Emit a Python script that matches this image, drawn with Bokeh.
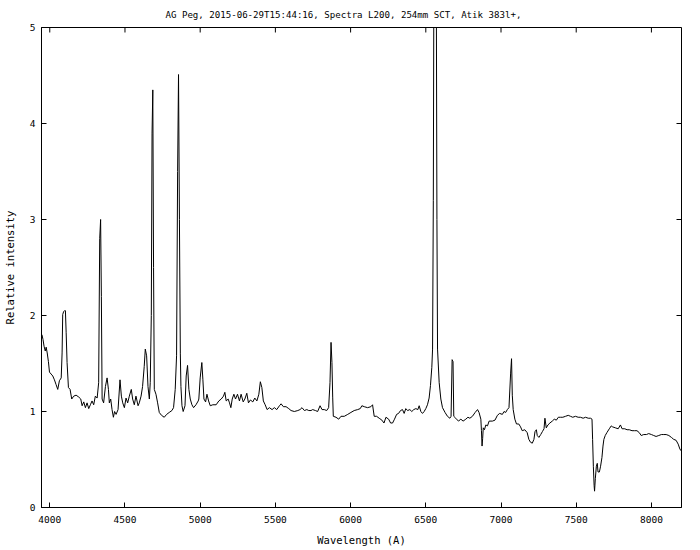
from bokeh.plotting import figure
from bokeh.models import Range1d, LinearAxis, FixedTicker, Title
from bokeh.embed import file_html
from bokeh.resources import INLINE

TITLE = "AG Peg, 2015-06-29T15:44:16, Spectra L200, 254mm SCT, Atik 383l+,"
X_LABEL = "Wavelength (A)"
Y_LABEL = "Relative intensity"
X_RANGE = (3945, 8200)
Y_RANGE = (0, 5)
X_TICKS = [4000, 4500, 5000, 5500, 6000, 6500, 7000, 7500, 8000]
Y_TICKS = [0, 1, 2, 3, 4, 5]

WAVELENGTH = [
    3948, 3955, 3962, 3970, 3976, 3983, 3991, 3998, 4009, 4020, 4031, 4042, 4053, 4064, 4076,
    4082, 4086, 4092, 4098, 4104, 4109, 4115, 4124, 4135, 4146, 4159, 4175, 4193, 4206, 4215,
    4226, 4237, 4248, 4259, 4270, 4281, 4292, 4303, 4315, 4325, 4332, 4338, 4343, 4348, 4358,
    4370, 4381, 4390, 4396, 4405, 4414, 4423, 4431, 4441, 4454, 4467, 4476, 4485, 4496, 4507,
    4518, 4529, 4542, 4551, 4562, 4573, 4587, 4595, 4607, 4617, 4628, 4635, 4644, 4653, 4662,
    4668, 4675, 4680, 4685, 4690, 4695, 4706, 4717, 4728, 4743, 4761, 4777, 4794, 4812, 4823,
    4834, 4843, 4850, 4856, 4862, 4868, 4872, 4879, 4887, 4899, 4907, 4916, 4925, 4934, 4945,
    4956, 4972, 4987, 4991, 5000, 5011, 5018, 5025, 5036, 5045, 5056, 5067, 5084, 5106, 5124,
    5140, 5155, 5164, 5173, 5186, 5195, 5204, 5213, 5224, 5235, 5248, 5261, 5272, 5286, 5297,
    5310, 5321, 5334, 5350, 5363, 5377, 5390, 5400, 5410, 5420, 5432, 5445, 5460, 5478, 5493,
    5509, 5527, 5538, 5553, 5571, 5589, 5604, 5626, 5649, 5664, 5677, 5693, 5709, 5722, 5737,
    5748, 5766, 5781, 5797, 5810, 5825, 5841, 5854, 5863, 5870, 5876, 5881, 5885, 5903, 5921,
    5936, 5958, 5981, 6002, 6024, 6047, 6064, 6075, 6091, 6113, 6135, 6146, 6157, 6173, 6190,
    6208, 6222, 6235, 6253, 6266, 6279, 6292, 6306, 6319, 6332, 6345, 6356, 6367, 6379, 6394,
    6407, 6420, 6434, 6447, 6456, 6467, 6478, 6489, 6500, 6511, 6522, 6531, 6540, 6545, 6550,
    6556, 6562, 6568, 6574, 6578, 6589, 6600, 6611, 6628, 6644, 6660, 6668, 6675, 6681, 6686,
    6699, 6717, 6733, 6748, 6766, 6780, 6793, 6810, 6828, 6844, 6854, 6866, 6870, 6874, 6878,
    6882, 6890, 6899, 6910, 6921, 6943, 6960, 6976, 6991, 7009, 7020, 7031, 7042, 7053, 7064,
    7070, 7075, 7081, 7092, 7103, 7118, 7130, 7141, 7158, 7174, 7185, 7196, 7208, 7219, 7226,
    7235, 7241, 7252, 7264, 7275, 7286, 7292, 7301, 7312, 7325, 7341, 7354, 7368, 7381, 7396,
    7411, 7429, 7447, 7462, 7477, 7495, 7513, 7528, 7546, 7562, 7580, 7595, 7605, 7609, 7614,
    7619, 7622, 7627, 7634, 7640, 7645, 7654, 7662, 7671, 7678, 7684, 7693, 7704, 7720, 7733,
    7742, 7760, 7779, 7794, 7805, 7823, 7838, 7853, 7871, 7888, 7904, 7919, 7932, 7949, 7967,
    7982, 8000, 8015, 8031, 8049, 8066, 8082, 8098, 8116, 8133, 8148, 8164, 8178, 8189, 8198,
]

INTENSITY = [
    1.80, 1.75, 1.68, 1.63, 1.67, 1.61, 1.52, 1.41, 1.39, 1.37, 1.33, 1.28, 1.23, 1.32, 1.35,
    1.61, 2.01, 2.04, 2.05, 2.05, 1.82, 1.51, 1.25, 1.23, 1.13, 1.16, 1.17, 1.15, 1.13, 1.06,
    1.10, 1.04, 1.09, 1.03, 1.07, 1.11, 1.07, 1.16, 1.14, 1.30, 2.80, 3.00, 2.20, 1.13, 1.09,
    1.26, 1.35, 1.23, 1.09, 1.13, 1.02, 0.94, 1.00, 0.97, 1.02, 1.33, 1.16, 1.09, 1.04, 1.14,
    1.09, 1.16, 1.23, 1.13, 1.07, 1.16, 1.06, 1.09, 1.16, 1.26, 1.47, 1.65, 1.58, 1.26, 1.13,
    1.30, 2.00, 3.90, 4.35, 2.50, 1.23, 1.18, 1.09, 0.99, 0.96, 0.94, 0.97, 0.99, 1.01, 1.04,
    1.23, 1.58, 3.50, 4.51, 3.00, 1.60, 1.26, 1.06, 1.00, 1.06, 1.37, 1.48, 1.23, 1.13, 1.07,
    1.04, 1.07, 1.11, 1.13, 1.35, 1.51, 1.33, 1.13, 1.10, 1.18, 1.11, 1.06, 1.07, 1.07, 1.11,
    1.13, 1.16, 1.20, 1.11, 1.13, 1.09, 1.04, 1.13, 1.18, 1.13, 1.18, 1.11, 1.18, 1.10, 1.13,
    1.19, 1.09, 1.12, 1.10, 1.14, 1.11, 1.18, 1.31, 1.25, 1.11, 1.07, 1.02, 1.04, 1.02, 1.04,
    1.02, 1.06, 1.08, 1.05, 1.05, 1.03, 1.01, 1.00, 1.01, 1.02, 1.04, 1.01, 1.02, 1.01, 1.01,
    1.02, 1.01, 1.00, 1.06, 1.02, 1.02, 1.01, 1.04, 1.30, 1.72, 1.51, 1.15, 0.95, 0.94, 0.92,
    0.95, 0.95, 0.97, 0.99, 1.01, 1.02, 1.03, 1.06, 1.05, 1.04, 1.05, 1.07, 0.95, 0.95, 0.93,
    0.91, 0.88, 0.94, 0.92, 0.88, 0.88, 0.92, 0.97, 0.98, 1.01, 1.02, 0.98, 1.03, 1.01, 1.02,
    1.00, 1.02, 1.03, 1.02, 1.06, 1.00, 0.98, 1.00, 1.03, 1.07, 1.14, 1.27, 1.46, 1.65, 3.20,
    7.00, 9.00, 6.50, 3.00, 1.65, 1.30, 1.13, 1.04, 0.99, 0.95, 0.93, 0.95, 1.54, 1.52, 0.95,
    0.93, 0.90, 0.92, 0.90, 0.92, 0.94, 0.93, 0.95, 0.99, 1.02, 0.99, 0.92, 0.80, 0.64, 0.72,
    0.83, 0.81, 0.86, 0.85, 0.90, 0.90, 0.91, 0.96, 0.98, 0.97, 1.00, 0.99, 1.02, 1.04, 1.40,
    1.55, 1.17, 1.02, 0.92, 0.87, 0.87, 0.84, 0.80, 0.81, 0.78, 0.71, 0.68, 0.67, 0.71, 0.79,
    0.81, 0.75, 0.73, 0.76, 0.79, 0.82, 0.93, 0.83, 0.86, 0.88, 0.90, 0.92, 0.91, 0.94, 0.94,
    0.94, 0.95, 0.96, 0.95, 0.94, 0.95, 0.94, 0.94, 0.93, 0.94, 0.93, 0.93, 0.92, 0.71, 0.43,
    0.23, 0.17, 0.30, 0.43, 0.46, 0.37, 0.37, 0.43, 0.52, 0.64, 0.71, 0.75, 0.78, 0.82, 0.85,
    0.84, 0.83, 0.82, 0.86, 0.82, 0.82, 0.81, 0.81, 0.80, 0.80, 0.80, 0.78, 0.75, 0.76, 0.76,
    0.77, 0.76, 0.75, 0.74, 0.75, 0.76, 0.76, 0.76, 0.75, 0.73, 0.71, 0.70, 0.66, 0.61, 0.59,
]

FONT = "DejaVu Sans Mono"

W, H = 692, 548
BL, BR, BT, BB = 40, 11, 27, 40

p = figure(width=W, height=H, output_backend="svg", toolbar_location=None,
           x_range=Range1d(*X_RANGE), y_range=Range1d(*Y_RANGE),
           x_axis_location=None, y_axis_location=None,
           min_border_left=BL, min_border_right=BR, min_border_top=BT, min_border_bottom=BB)
p.background_fill_color = "white"
p.border_fill_color = "white"
p.outline_line_color = "black"
p.outline_line_width = 1
p.xgrid.visible = False
p.ygrid.visible = False

def style(ax, ticks, label):
    ax.ticker = FixedTicker(ticks=ticks)
    ax.major_tick_in = 5
    ax.major_tick_out = 0
    ax.minor_tick_in = 0
    ax.minor_tick_out = 0
    ax.axis_line_color = "black"
    ax.major_tick_line_color = "black"
    ax.major_label_text_font = FONT
    ax.major_label_text_color = "black"
    ax.major_label_text_font_size = "9.5px"
    ax.major_label_standoff = 6
    ax.axis_label = label
    ax.axis_label_text_font = FONT
    ax.axis_label_text_font_size = "10.5px"
    ax.axis_label_text_font_style = "normal"
    ax.axis_label_text_color = "black"
    return ax

xb = style(LinearAxis(), X_TICKS, X_LABEL)
xb.major_label_standoff = 8
xb.axis_label_standoff = 8
yl = style(LinearAxis(), Y_TICKS, Y_LABEL)
yl.axis_label_standoff = 11
p.add_layout(xb, "below")
p.add_layout(yl, "left")

# mirrored inward ticks on the top and right borders (gnuplot style)
tick_px = 5
x_span = X_RANGE[1] - X_RANGE[0]
y_span = Y_RANGE[1] - Y_RANGE[0]
frame_w = W - BL - BR
frame_h = H - BT - BB
dy = tick_px * y_span / frame_h
dx = tick_px * x_span / frame_w
p.segment(x0=X_TICKS, x1=X_TICKS, y0=[Y_RANGE[1]] * len(X_TICKS),
          y1=[Y_RANGE[1] - dy] * len(X_TICKS), line_color="black", line_width=1)
p.segment(x0=[X_RANGE[1]] * len(Y_TICKS), x1=[X_RANGE[1] - dx] * len(Y_TICKS),
          y0=Y_TICKS, y1=Y_TICKS, line_color="black", line_width=1)

t = Title(text=TITLE, align="left", text_font=FONT, text_font_size="9.1px",
          text_font_style="normal", text_color="black", standoff=15, offset=124)
p.add_layout(t, "above")

p.line(WAVELENGTH, INTENSITY, line_color="black", line_width=1)

open("out.html", "w").write(file_html(p, INLINE))
